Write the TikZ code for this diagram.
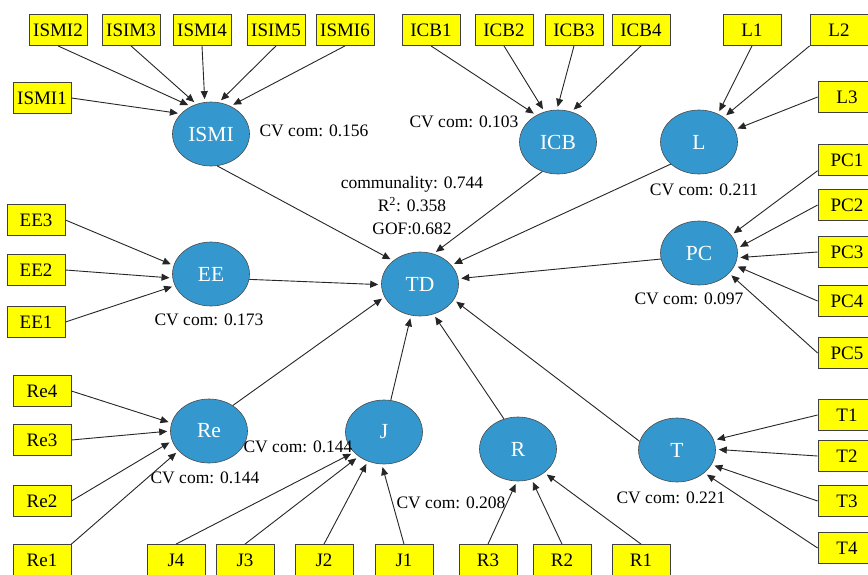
\documentclass[tikz,border=0pt]{standalone}
\usepackage{fontspec}
\setmainfont{Liberation Serif}
\usetikzlibrary{shapes.geometric}
\usetikzlibrary{arrows.meta}

\definecolor{latentblue}{RGB}{52,152,206}
\definecolor{itemyellow}{RGB}{255,255,0}

\tikzset{
  indicator/.style={draw=black!75, line width=0.8pt, fill=itemyellow, minimum width=58pt,
    minimum height=31pt, inner sep=0pt, font=\fontsize{19}{21}\selectfont},
  latent/.style={ellipse, draw=black!70, line width=0.6pt, fill=latentblue, minimum width=77pt,
    minimum height=64pt, inner sep=0pt, text=white, font=\fontsize{21.5}{24}\selectfont},
  cvlabel/.style={inner sep=0pt, font=\fontsize{17.5}{23}\selectfont},
  load/.style={draw=black!85, line width=0.9pt, -{Triangle[length=8pt,width=7pt]}, shorten >=3pt},
}

\begin{document}
\begin{tikzpicture}[x=1pt,y=-1pt]
        \clip (0,0) rectangle (868,574);
        \fill[white] (0,0) rectangle (868,574);

        \node[latent] (ISMI) at (211,134) {ISMI};
        \node[latent] (ICB) at (558,142) {ICB};
        \node[latent] (L) at (699,142) {L};
        \node[latent] (EE) at (211,274) {EE};
        \node[latent] (TD) at (420,284) {TD};
        \node[latent] (PC) at (699,253) {PC};
        \node[latent] (Re) at (209,431) {Re};
        \node[latent] (J) at (384,432) {J};
        \node[latent] (R) at (518,449) {R};
        \node[latent] (T) at (677,450) {T};

        \node[indicator] (ISMI1) at (42,98) {ISMI1};
        \node[indicator] (ISMI2) at (58,30) {ISMI2};
        \node[indicator] (ISIM3) at (131,30) {ISIM3};
        \node[indicator] (ISMI4) at (202,30) {ISMI4};
        \node[indicator] (ISIM5) at (276,30) {ISIM5};
        \node[indicator] (ISMI6) at (345,30) {ISMI6};
        \node[indicator] (ICB1) at (431,30) {ICB1};
        \node[indicator] (ICB2) at (504,30) {ICB2};
        \node[indicator] (ICB3) at (574,30) {ICB3};
        \node[indicator] (ICB4) at (641,30) {ICB4};
        \node[indicator] (L1) at (752,30) {L1};
        \node[indicator] (L2) at (839,30) {L2};
        \node[indicator] (L3) at (847,97) {L3};
        \node[indicator] (PC1) at (847,160) {PC1};
        \node[indicator] (PC2) at (847,205) {PC2};
        \node[indicator] (PC3) at (847,252) {PC3};
        \node[indicator] (PC4) at (847,301) {PC4};
        \node[indicator] (PC5) at (847,353) {PC5};
        \node[indicator] (T1) at (847,415) {T1};
        \node[indicator] (T2) at (847,456) {T2};
        \node[indicator] (T3) at (847,501) {T3};
        \node[indicator] (T4) at (847,548) {T4};
        \node[indicator] (R1) at (641,560) {R1};
        \node[indicator] (R2) at (562,560) {R2};
        \node[indicator] (R3) at (488,560) {R3};
        \node[indicator] (J1) at (404,560) {J1};
        \node[indicator] (J2) at (324,560) {J2};
        \node[indicator] (J3) at (245,560) {J3};
        \node[indicator] (J4) at (176,560) {J4};
        \node[indicator] (Re1) at (42,560) {Re1};
        \node[indicator] (Re2) at (42,501) {Re2};
        \node[indicator] (Re3) at (42,440) {Re3};
        \node[indicator] (Re4) at (42,391) {Re4};
        \node[indicator] (EE1) at (36,322) {EE1};
        \node[indicator] (EE2) at (36,270) {EE2};
        \node[indicator] (EE3) at (36,220) {EE3};

        \node[cvlabel] (cvISMI) at (314,131) {CV com: 0.156};
        \node[cvlabel] (cvICB) at (464,122) {CV com: 0.103};
        \node[cvlabel] (cvL) at (704,190) {CV com: 0.211};
        \node[cvlabel, align=center] (fitTD) at (412,206) {communality: 0.744\\R\textsuperscript{2}: 0.358\\GOF:0.682};
        \node[cvlabel] (cvEE) at (209,320) {CV com: 0.173};
        \node[cvlabel] (cvPC) at (689,299) {CV com: 0.097};
        \node[cvlabel] (cvRe) at (205,478) {CV com: 0.144};
        \node[cvlabel] (cvJ) at (298,447) {CV com: 0.144};
        \node[cvlabel] (cvR) at (451,503) {CV com: 0.208};
        \node[cvlabel] (cvT) at (671,498) {CV com: 0.221};

        \draw[load] (ISMI1.east) -- (ISMI.146);
        \draw[load] (ISMI2.south) -- (ISMI.126);
        \draw[load] (ISIM3.south) -- (ISMI.116);
        \draw[load] (ISMI4.south) -- (ISMI.101);
        \draw[load] (ISIM5.south) -- (ISMI.76);
        \draw[load] (ISMI6.south) -- (ISMI.55);

        \draw[load] (ICB1.south) -- (ICB.129);
        \draw[load] (ICB2.south) -- (ICB.114);
        \draw[load] (ICB3.south) -- (ICB.92);
        \draw[load] (ICB4.south) -- (ICB.66);

        \draw[load] (L1.south) -- (L.56);
        \draw[load] (L2.south west) -- (L.45);
        \draw[load] (L3.west) -- (L.19);

        \draw[load] (PC1.200) -- (PC.29);
        \draw[load] (PC2.west) -- (PC.7);
        \draw[load] (PC3.west) -- (PC.353);
        \draw[load] (PC4.west) -- (PC.341);
        \draw[load] (PC5.west) -- (PC.326);

        \draw[load] (T1.west) -- (T.15);
        \draw[load] (T2.west) -- (T.1);
        \draw[load] (T3.west) -- (T.337);
        \draw[load] (T4.west) -- (T.320);

        \draw[load] (R1.north) -- (R.318);
        \draw[load] (R2.north) -- (R.294);
        \draw[load] (R3.north) -- (R.268);

        \draw[load] (J1.north) -- (J.266);
        \draw[load] (J2.north) -- (J.241);
        \draw[load] (J3.north) -- (J.224);
        \draw[load] (J4.north) -- (J.214);

        \draw[load] (Re1.north east) -- (Re.213);
        \draw[load] (Re2.east) -- (Re.195);
        \draw[load] (Re3.east) -- (Re.180);
        \draw[load] (Re4.east) -- (Re.168);

        \draw[load] (EE1.east) -- (EE.198);
        \draw[load] (EE2.east) -- (EE.186);
        \draw[load] (EE3.east) -- (EE.167);

        \draw[load] (ISMI.281) -- (TD.139);
        \draw[load] (ICB.242) -- (TD.66);
        \draw[load] (L.218) -- (TD.31);
        \draw[load] (PC.189) -- (TD.8);
        \draw[load] (EE.352) -- (TD.181);
        \draw[load] (Re.47) -- (TD.200);
        \draw[load] (J.78) -- (TD.254);
        \draw[load] (R.115) -- (TD.294);
        \draw[load] (T.167) -- (TD.335);
      \end{tikzpicture}
\end{document}
